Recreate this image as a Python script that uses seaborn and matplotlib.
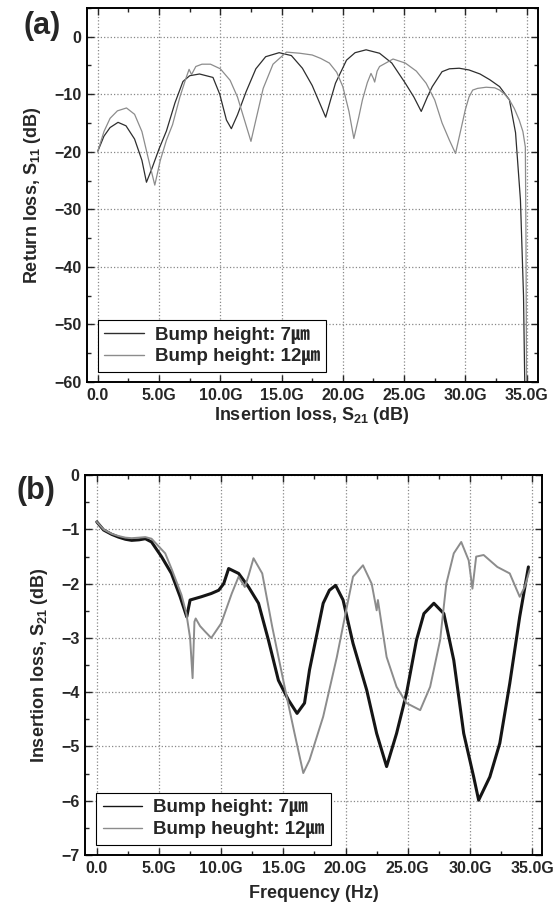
import numpy as np
import pandas as pd
import matplotlib
matplotlib.use('Agg')
import matplotlib.pyplot as plt
from matplotlib.ticker import MultipleLocator, FuncFormatter
import seaborn as sns

# ---- (a) return loss, S11 ----
s11_f_7 = [0, 0.5, 1.0, 1.65, 2.3, 3.0, 3.6, 3.97, 4.4, 5.0, 5.6, 6.3, 6.95, 7.5, 8.3,
           9.4, 9.95, 10.5, 10.9, 11.4, 12.1, 12.9, 13.7, 14.8, 15.8, 16.7, 17.5, 18.1, 18.6, 19.0,
           19.4, 20.3, 21.0, 21.9, 23.0, 24.0, 25.1, 25.8, 26.4, 26.9, 27.3, 28.1, 28.7, 29.5, 30.3,
           31.2, 32.0, 32.8, 33.6, 34.1, 34.5, 34.75, 34.85]
s11_db_7 = [-19.9, -17.3, -15.8, -14.9, -15.5, -17.8, -21.5, -25.3, -23.0, -19.5, -16.4, -11.5, -7.8, -6.8, -6.5,
            -7.1, -10.0, -14.5, -16.0, -13.6, -9.6, -5.6, -3.5, -2.8, -3.3, -5.5, -8.5, -11.5, -14.0, -11.0,
            -8.1, -4.1, -2.8, -2.3, -2.9, -4.6, -8.1, -10.5, -13.0, -10.5, -8.7, -6.1, -5.6, -5.5, -5.8,
            -6.5, -7.5, -8.7, -11.0, -16.7, -28.4, -45.0, -60.0]

s11_f_12 = [0, 0.5, 1.0, 1.6, 2.34, 3.0, 3.6, 4.1, 4.65, 5.1, 5.6, 6.1, 6.7, 7.2, 7.45,
            7.65, 8.0, 8.5, 9.2, 10.0, 10.8, 11.4, 11.9, 12.5, 12.9, 13.5, 14.3, 15.4, 16.5, 17.5,
            18.2, 18.9, 19.5, 20.0, 20.5, 20.9, 21.3, 21.6, 22.0, 22.3, 22.5, 22.6, 22.8, 23.0, 24.1,
            25.1, 26.0, 26.8, 27.5, 28.1, 28.7, 29.2, 29.6, 30.0, 30.3, 30.6, 31.0, 31.7, 32.4, 32.8,
            33.2, 33.6, 34.0, 34.4, 34.7, 34.9, 34.95, 35.0]
s11_db_12 = [-19.9, -16.5, -14.2, -12.9, -12.4, -13.5, -16.5, -21.0, -25.8, -21.5, -18.0, -15.3, -10.5, -7.2, -5.7,
             -6.6, -5.2, -4.8, -4.8, -5.6, -7.6, -10.5, -14.0, -18.2, -14.5, -9.0, -4.8, -2.7, -2.9, -3.2,
             -3.8, -4.6, -6.2, -8.7, -13.0, -17.7, -14.0, -11.0, -8.0, -6.4, -7.3, -7.9, -6.0, -5.2, -3.9,
             -4.6, -6.0, -8.1, -11.0, -15.0, -18.0, -20.3, -16.5, -12.7, -10.5, -9.3, -9.0, -8.8, -8.9, -9.3,
             -10.0, -11.0, -12.5, -14.5, -16.5, -19.2, -35.0, -60.0]

# ---- (b) insertion loss, S21 ----
s21_f_7 = [0, 0.55, 1.2, 1.74, 2.3, 2.8, 3.4, 3.9, 4.4, 5.2, 6.0, 6.7, 7.23, 7.5, 8.4,
           9.2, 9.8, 10.2, 10.6, 11.4, 12.2, 13.0, 13.8, 14.6, 15.4, 16.1, 16.7, 17.1, 17.7, 18.2,
           18.7, 19.2, 19.8, 20.6, 21.7, 22.5, 23.3, 24.1, 24.9, 25.7, 26.3, 27.1, 27.9, 28.7, 29.5,
           30.3, 30.7, 31.6, 32.4, 33.2, 34.0, 34.7]
s21_db_7 = [-0.86, -1.01, -1.09, -1.14, -1.18, -1.20, -1.19, -1.17, -1.23, -1.50, -1.81, -2.24, -2.61, -2.30, -2.24,
            -2.18, -2.12, -2.00, -1.72, -1.81, -2.06, -2.36, -3.04, -3.78, -4.14, -4.39, -4.20, -3.59, -2.92, -2.36,
            -2.12, -2.03, -2.30, -3.10, -3.96, -4.76, -5.37, -4.76, -4.02, -3.04, -2.55, -2.36, -2.55, -3.41, -4.76,
            -5.56, -5.99, -5.56, -4.94, -3.84, -2.61, -1.69]

s21_f_12 = [0, 0.55, 1.2, 1.74, 2.3, 2.8, 3.4, 3.9, 4.4, 5.5, 6.0, 6.8, 7.2, 7.5, 7.7,
            7.85, 7.95, 8.3, 8.7, 9.2, 10.0, 10.85, 11.4, 11.9, 12.2, 12.6, 13.3, 14.1, 15.1, 15.9,
            16.6, 17.1, 18.2, 19.3, 20.1, 20.6, 21.4, 22.1, 22.5, 22.6, 23.3, 24.1, 24.9, 26.0, 26.8,
            27.6, 28.1, 28.7, 29.3, 29.9, 30.2, 30.5, 31.1, 32.2, 33.2, 34.0, 34.4, 34.8]
s21_db_12 = [-0.86, -1.00, -1.08, -1.12, -1.15, -1.16, -1.15, -1.14, -1.17, -1.44, -1.72, -2.20, -2.55, -3.00, -3.74,
             -2.70, -2.64, -2.78, -2.88, -3.00, -2.73, -2.18, -1.87, -2.06, -1.85, -1.53, -1.81, -2.79, -3.90, -4.76,
             -5.49, -5.25, -4.45, -3.35, -2.43, -1.87, -1.66, -2.00, -2.49, -2.30, -3.35, -3.90, -4.20, -4.33, -3.90,
             -3.04, -2.00, -1.44, -1.23, -1.57, -2.09, -1.50, -1.47, -1.69, -1.81, -2.24, -2.06, -1.75]

sns.set_style('ticks')
plt.rcParams['font.family'] = ['Liberation Sans', 'Noto Sans CJK JP', 'DejaVu Sans']
plt.rcParams['font.weight'] = 'bold'
plt.rcParams['mathtext.fontset'] = 'custom'
plt.rcParams['mathtext.bf'] = 'Liberation Sans:bold'
plt.rcParams['mathtext.rm'] = 'Liberation Sans:bold'
plt.rcParams['mathtext.default'] = 'bf'

fig = plt.figure(figsize=(5.6, 9.15), dpi=100)
ax1 = fig.add_axes([0.155, 0.5825, 0.805, 0.409])
ax2 = fig.add_axes([0.152, 0.0656, 0.816, 0.415])


def ghz_fmt(v, pos):
    return '0.0' if abs(v) < 1e-9 else f'{v:.1f}G'


def style_axis(ax, xmin, xmax, ymin, ymax, ymaj, ymin_step):
    ax.set_xlim(xmin, xmax)
    ax.set_ylim(ymin, ymax)
    ax.xaxis.set_major_locator(MultipleLocator(5))
    ax.xaxis.set_minor_locator(MultipleLocator(2.5))
    ax.xaxis.set_major_formatter(FuncFormatter(ghz_fmt))
    ax.yaxis.set_major_locator(MultipleLocator(ymaj))
    ax.yaxis.set_minor_locator(MultipleLocator(ymin_step))
    ax.tick_params(which='both', direction='in', top=True, right=True, labelsize=11.5, width=1.0)
    ax.tick_params(which='major', length=5, pad=4)
    ax.tick_params(which='minor', length=3)
    for lab in ax.get_xticklabels() + ax.get_yticklabels():
        lab.set_fontweight('bold')
    ax.grid(True, which='major', linestyle=':', color='#888888', linewidth=0.9)
    for sp in ax.spines.values():
        sp.set_linewidth(1.4)
        sp.set_color('black')


def style_legend(ax):
    leg = ax.legend(loc='lower left', bbox_to_anchor=(0.024, 0.027), borderaxespad=0,
                    fancybox=False, framealpha=1, edgecolor='black', handlelength=2.1,
                    prop={'weight': 'bold', 'size': 13.5}, borderpad=0.35, labelspacing=0.25,
                    handletextpad=0.6)
    leg.get_frame().set_linewidth(0.8)
    for h in leg.get_lines():
        h.set_linewidth(1.0)
    return leg


# top panel
sns.lineplot(x=s11_f_7, y=s11_db_7, ax=ax1, color='#2e2e2e', linewidth=0.9,
             estimator=None, sort=False, label='Bump height: 7㎛')
sns.lineplot(x=s11_f_12, y=s11_db_12, ax=ax1, color='#8c8c8c', linewidth=0.9,
             estimator=None, sort=False, label='Bump height: 12㎛')
style_axis(ax1, -0.9, 35.9, -60, 5, 10, 5)
ax1.set_xlabel('Insertion loss, S$_{21}$ (dB)', fontsize=13, fontweight='bold', labelpad=2)
ax1.set_ylabel('Return loss, S$_{11}$ (dB)', fontsize=13, fontweight='bold', labelpad=8)
style_legend(ax1)
fig.text(0.075, 0.972, '(a)', fontsize=22, fontweight='bold', ha='center', va='center')

# bottom panel
sns.lineplot(x=s21_f_7, y=s21_db_7, ax=ax2, color='#151515', linewidth=2.2,
             estimator=None, sort=False, label='Bump height: 7㎛')
sns.lineplot(x=s21_f_12, y=s21_db_12, ax=ax2, color='#8c8c8c', linewidth=1.4,
             estimator=None, sort=False, label='Bump heught: 12㎛')
style_axis(ax2, -0.94, 35.8, -7, 0, 1, 0.5)
ax2.set_xlabel('Frequency (Hz)', fontsize=13, fontweight='bold', labelpad=7)
ax2.set_ylabel('Insertion loss, S$_{21}$ (dB)', fontsize=13, fontweight='bold', labelpad=8)
style_legend(ax2)
fig.text(0.065, 0.463, '(b)', fontsize=22, fontweight='bold', ha='center', va='center')

fig.savefig('out.png', dpi=100)
